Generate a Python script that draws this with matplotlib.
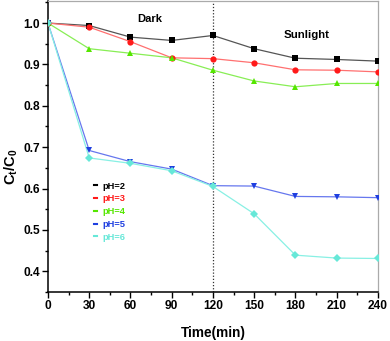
import matplotlib
matplotlib.use("Agg")
import matplotlib.pyplot as plt
from matplotlib.lines import Line2D
from matplotlib.ticker import MultipleLocator

plt.rcParams["font.family"] = ["Liberation Sans", "DejaVu Sans"]
plt.rcParams["mathtext.fontset"] = "custom"
plt.rcParams["mathtext.rm"] = "Liberation Sans:bold"
plt.rcParams["mathtext.bf"] = "Liberation Sans:bold"
plt.rcParams["mathtext.it"] = "Liberation Sans:bold"

time = [0, 30, 60, 90, 120, 150, 180, 210, 240]
ph2 = [1.0, 0.994, 0.966, 0.958, 0.970, 0.938, 0.915, 0.912, 0.908]
ph3 = [1.0, 0.990, 0.955, 0.916, 0.914, 0.904, 0.887, 0.886, 0.882]
ph4 = [1.0, 0.938, 0.927, 0.916, 0.886, 0.860, 0.846, 0.854, 0.854]
ph5 = [1.0, 0.692, 0.665, 0.647, 0.607, 0.606, 0.581, 0.580, 0.578]
ph6 = [1.0, 0.674, 0.661, 0.643, 0.605, 0.539, 0.439, 0.432, 0.431]
labels = ["pH=2", "pH=3", "pH=4", "pH=5", "pH=6"]

series = [ph2, ph3, ph4, ph5, ph6]
marker_colors = ["#000000", "#ff1a1a", "#55e600", "#1f3fe0", "#66e8d8"]
line_colors = ["#555555", "#ff7070", "#88ee55", "#6677ee", "#88f0e4"]
markers = ["s", "o", "^", "v", "D"]
msizes = [4, 4.5, 5, 5, 4]

fig = plt.figure(figsize=(3.9, 3.41), dpi=100)
ax = fig.add_axes([0.123, 0.1437, 0.846, 0.853])

for y, mc, lc, m, ms in zip(series, marker_colors, line_colors, markers, msizes):
    ax.plot(time, y, color=lc, lw=0.9, zorder=2)
    ax.plot(time, y, linestyle="none", marker=m, color=mc, markersize=ms,
            markeredgewidth=0, zorder=3)

ax.axvline(120, color="#333333", lw=0.9, linestyle=(0, (1, 1.5)), zorder=1)

ax.set_xlim(0, 240)
ax.set_ylim(0.35, 1.053)
ax.xaxis.set_major_locator(MultipleLocator(30))
ax.xaxis.set_minor_locator(MultipleLocator(15))
ax.yaxis.set_major_locator(MultipleLocator(0.1))
ax.yaxis.set_minor_locator(MultipleLocator(0.05))
ax.set_yticks([0.4, 0.5, 0.6, 0.7, 0.8, 0.9, 1.0])
ax.tick_params(which="major", direction="out", length=4, width=1,
               labelsize=8.6, pad=2)
ax.tick_params(which="minor", direction="out", length=2.5, width=1)
for lab in ax.get_xticklabels() + ax.get_yticklabels():
    lab.set_fontweight("bold")

for s in ["left", "bottom"]:
    ax.spines[s].set_color("black")
    ax.spines[s].set_linewidth(1.1)
for s in ["top", "right"]:
    ax.spines[s].set_color("#aaaaaa")
    ax.spines[s].set_linewidth(0.9)

ax.set_xlabel("Time(min)", fontsize=9.8, fontweight="bold", labelpad=10)
ax.set_ylabel(r"$\mathbf{C_t/C_0}$", fontsize=10.5, labelpad=5)
ax.yaxis.set_label_coords(-0.085, 0.43)

ax.text(74, 1.01, "Dark", fontsize=8, fontweight="bold", ha="center", va="center")
ax.text(188, 0.971, "Sunlight", fontsize=8.2, fontweight="bold", ha="center", va="center")

handles = [Line2D([0], [0], color=c, lw=1.5) for c in marker_colors]
leg = ax.legend(handles, labels, loc="upper left", bbox_to_anchor=(0.125, 0.395),
                frameon=False, fontsize=6.7, handlelength=0.3, handletextpad=0.6,
                labelspacing=0.4, borderpad=0)
for t, c in zip(leg.get_texts(), marker_colors):
    t.set_color(c)
    t.set_fontweight("bold")

fig.savefig("out.png", dpi=100)
